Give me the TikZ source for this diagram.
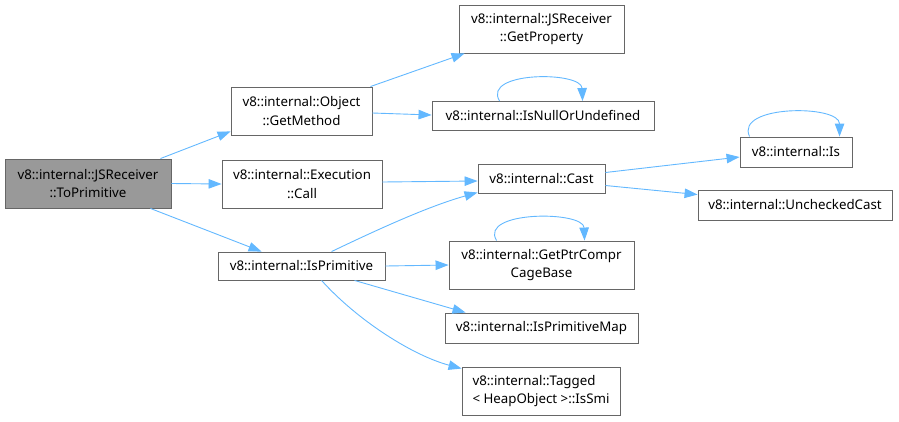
\documentclass[tikz,border=0pt]{standalone}
\usepackage{fontspec}
\setmainfont{Noto Sans}
\usetikzlibrary{arrows.meta,calc}
\definecolor{edgeblue}{HTML}{63B8FF}
\definecolor{boxgray}{HTML}{666666}
\definecolor{rootfill}{HTML}{999999}
\begin{document}
\begin{tikzpicture}[x=1pt,y=-1pt,
  fn/.style={draw=boxgray,line width=0.9pt,fill=white,inner sep=0pt,align=center,
    font=\fontsize{13.3}{18.5}\selectfont},
  rootbox/.style={fn,fill=rootfill},
  edge/.style={draw=edgeblue,line width=0.9pt,-{Triangle[length=13pt,width=9.5pt]}}]
\useasboundingbox (0,0) rectangle (899,421);
\node[rootbox,minimum width=166pt,minimum height=49pt] (root) at (88,183.5) {v8::internal::JSReceiver\\::ToPrimitive};
\node[fn,minimum width=141pt,minimum height=48pt] (getmethod) at (301.5,111) {v8::internal::Object\\::GetMethod};
\node[fn,minimum width=165pt,minimum height=48pt] (getprop) at (541.5,29) {v8::internal::JSReceiver\\::GetProperty};
\node[fn,minimum width=222pt,minimum height=29pt] (isnull) at (543,116) {v8::internal::IsNullOrUndefined};
\node[fn,minimum width=160pt,minimum height=48pt] (call) at (302,184) {v8::internal::Execution\\::Call};
\node[fn,minimum width=127pt,minimum height=29pt] (cast) at (541.5,178.5) {v8::internal::Cast};
\node[fn,minimum width=167pt,minimum height=28pt] (isprim) at (301.5,266) {v8::internal::IsPrimitive};
\node[fn,minimum width=185pt,minimum height=48pt] (getptr) at (541.5,265) {v8::internal::GetPtrCompr\\CageBase};
\node[fn,minimum width=193pt,minimum height=30pt] (isprimmap) at (541.5,328) {v8::internal::IsPrimitiveMap};
\node[fn,minimum width=158pt,minimum height=48pt,align=left] (tagged) at (541,391) {v8::internal::Tagged\\< HeapObject >::IsSmi};
\node[fn,minimum width=112pt,minimum height=30pt] (is) at (796,152) {v8::internal::Is};
\node[fn,minimum width=194pt,minimum height=30pt] (unchecked) at (795,205) {v8::internal::UncheckedCast};

\draw[edge] ($(root.north east)+(-11,0)$) -- ($(getmethod.south west)+(0,-4)$);
\draw[edge] (root.east) -- (call.west);
\draw[edge] ($(root.south east)+(-21,0)$) -- ($(isprim.north west)+(44,0)$);
\draw[edge] ($(getmethod.north east)+(-2,0)$) -- ($(getprop.south west)+(6,0)$);
\draw[edge] ($(getmethod.east)+(0,2)$) -- ($(isnull.west)+(0,-1)$);
\draw[edge] ($(isnull.north west)+(68,0)$) .. controls ($(isnull.north west)+(50,-30)$) and ($(isnull.north west)+(150,-30)$) .. ($(isnull.north west)+(151,0)$);
\draw[edge] ($(call.east)+(0,-2)$) -- ($(cast.west)+(0,2.5)$);
\draw[edge] ($(isprim.north west)+(114,0)$) .. controls ($(isprim.north west)+(160,-22)$) and ($(isprim.north west)+(210,-45)$) .. ($(cast.south west)+(0,-1)$);
\draw[edge] (isprim.east) -- (getptr.west);
\draw[edge] ($(getptr.north west)+(48,0)$) .. controls ($(getptr.north west)+(30,-30)$) and ($(getptr.north west)+(135,-30)$) .. ($(getptr.north west)+(136,0)$);
\draw[edge] ($(isprim.south west)+(137,0)$) -- ($(isprimmap.north west)+(21,0)$);
\draw[edge] ($(isprim.south west)+(104,0)$) .. controls ($(isprim.south west)+(140,40)$) and ($(isprim.south west)+(195,75)$) .. ($(tagged.north west)+(0,2)$);
\draw[edge] ($(cast.east)+(0,-6)$) -- ($(is.west)+(0,5)$);
\draw[edge] ($(cast.east)+(0,7)$) -- ($(unchecked.north west)+(0,5)$);
\draw[edge] ($(is.north west)+(10,0)$) .. controls ($(is.north west)+(-5,-32)$) and ($(is.north west)+(100,-32)$) .. ($(is.north west)+(100,0)$);
\end{tikzpicture}
\end{document}
